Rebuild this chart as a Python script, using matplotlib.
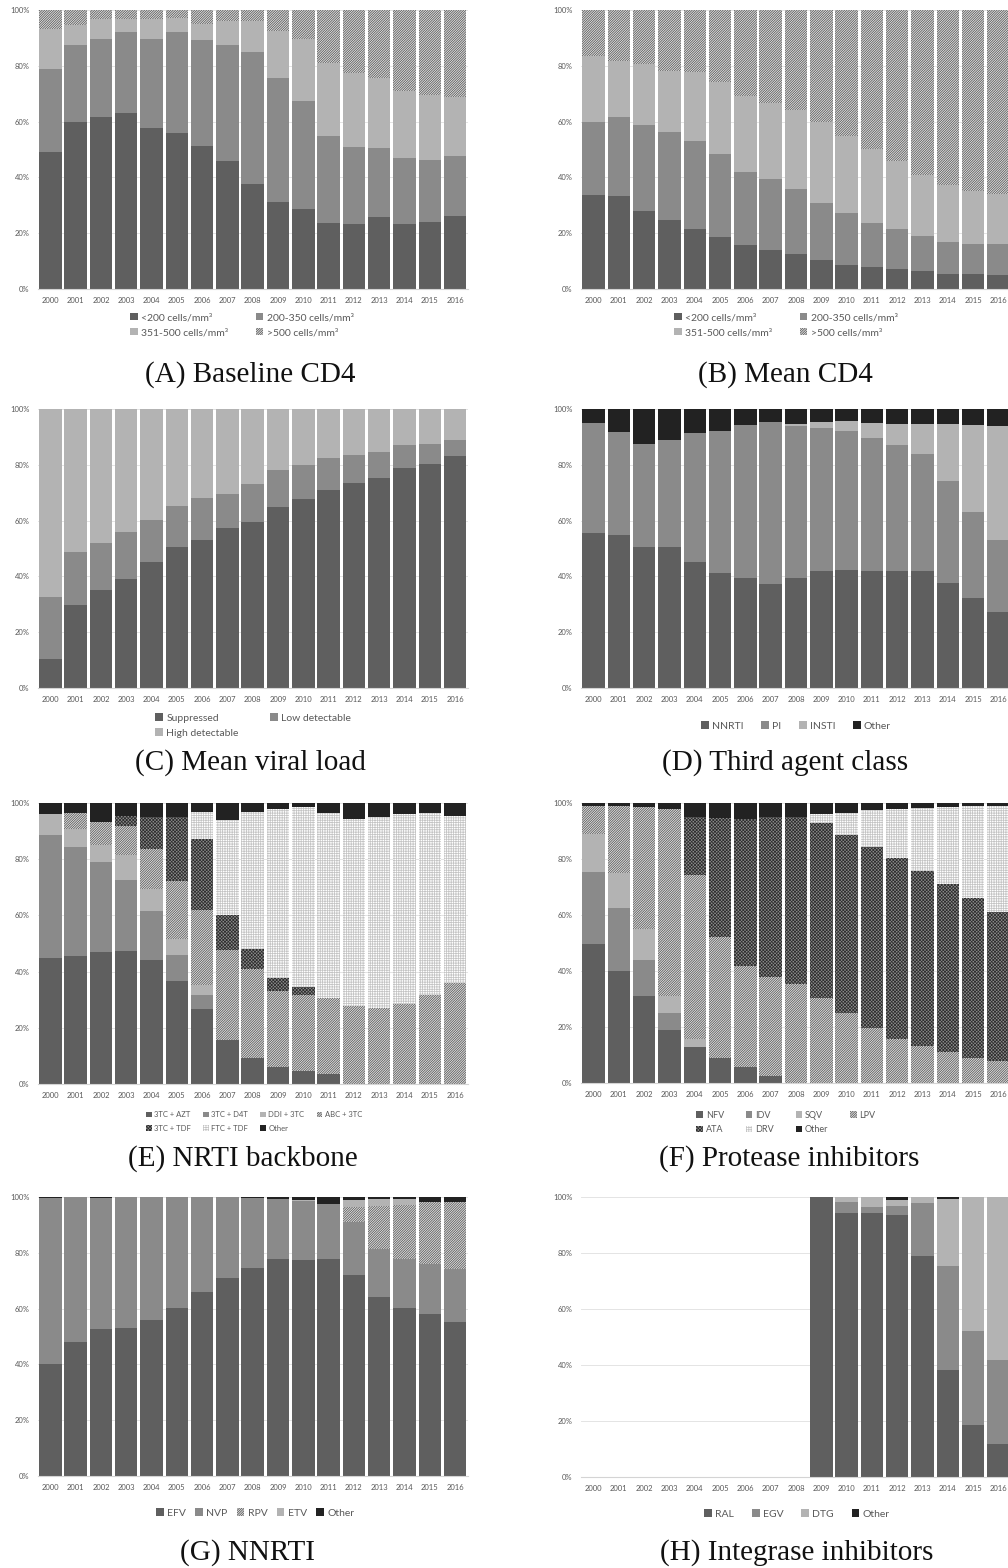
import numpy as np
import matplotlib
matplotlib.use('Agg')
import matplotlib.pyplot as plt

plt.rcParams['font.family'] = ['Lato', 'DejaVu Sans']
plt.rcParams['hatch.linewidth'] = 0.55

years = [str(y) for y in range(2000, 2017)]

# (A) Baseline CD4
a_lt200 = [49.0, 60.0, 61.7, 63.2, 57.6, 55.8, 51.4, 45.9, 37.7, 31.3, 28.8, 23.7, 23.2, 25.8, 23.2, 24.0, 26.3]
a_200_350 = [29.9, 27.6, 27.9, 29.0, 31.9, 36.4, 37.9, 41.5, 47.1, 44.4, 38.7, 31.2, 27.8, 24.7, 23.6, 22.2, 21.4]
a_351_500 = [14.3, 7.1, 7.2, 4.6, 7.3, 5.1, 5.8, 8.7, 11.3, 16.9, 22.1, 26.1, 26.4, 25.3, 24.1, 23.4, 21.2]
a_gt500 = [6.8, 5.3, 3.2, 3.2, 3.2, 2.7, 4.9, 3.9, 3.9, 7.4, 10.4, 19.0, 22.6, 24.2, 29.1, 30.4, 31.1]

# (B) Mean CD4
b_lt200 = [33.7, 33.4, 28.0, 24.9, 21.6, 18.6, 15.6, 14.0, 12.5, 10.4, 8.5, 8.0, 7.3, 6.4, 5.5, 5.4, 5.1]
b_200_350 = [26.3, 28.4, 30.9, 31.2, 31.6, 29.7, 26.2, 25.6, 23.3, 20.4, 18.6, 15.7, 14.1, 12.5, 11.4, 10.6, 10.9]
b_351_500 = [23.5, 19.9, 21.8, 22.2, 24.7, 26.0, 27.2, 27.2, 28.3, 28.9, 27.9, 26.4, 24.4, 21.9, 20.5, 19.2, 17.9]
b_gt500 = [16.5, 18.3, 19.3, 21.7, 22.1, 25.7, 31.0, 33.2, 35.9, 40.3, 45.0, 49.9, 54.2, 59.2, 62.6, 64.8, 66.1]

# (C) Mean viral load
c_supp = [10.5, 29.6, 35.2, 39.1, 45.3, 50.6, 52.9, 57.4, 59.5, 65.0, 67.7, 71.1, 73.4, 75.3, 79.0, 80.2, 83.2]
c_low = [22.2, 19.1, 16.9, 16.9, 14.8, 14.7, 15.1, 12.3, 13.5, 13.3, 12.1, 11.2, 10.1, 9.2, 8.1, 7.2, 5.7]
c_high = [67.3, 51.3, 47.9, 44.0, 39.9, 34.7, 32.0, 30.3, 27.0, 21.7, 20.2, 17.7, 16.5, 15.5, 12.9, 12.6, 11.1]

# (D) Third agent class
d_nnrti = [55.5, 54.8, 50.7, 50.5, 45.2, 41.2, 39.6, 37.1, 39.5, 41.9, 42.4, 42.1, 42.0, 41.9, 37.5, 32.3, 27.1]
d_pi = [39.5, 36.8, 36.8, 38.4, 46.1, 51.0, 54.6, 58.2, 54.3, 51.4, 49.8, 47.6, 45.1, 41.9, 36.7, 30.8, 26.0]
d_insti = [0, 0, 0, 0, 0, 0, 0, 0, 0.7, 2.2, 3.4, 5.4, 7.6, 10.7, 20.3, 31.1, 40.8]
d_other = [5.0, 8.4, 12.5, 11.1, 8.7, 7.8, 5.8, 4.7, 5.5, 4.5, 4.4, 4.9, 5.3, 5.5, 5.5, 5.8, 6.1]

# (E) NRTI backbone
e_azt = [44.7, 45.4, 46.9, 47.4, 44.1, 36.7, 26.8, 15.7, 9.3, 6.1, 4.6, 3.4, 0, 0, 0, 0, 0]
e_d4t = [44.0, 38.8, 32.0, 25.2, 17.3, 9.1, 4.7, 0, 0, 0, 0, 0, 0, 0, 0, 0, 0]
e_ddi = [7.3, 6.4, 6.1, 8.8, 8.1, 5.9, 3.8, 0, 0, 0, 0, 0, 0, 0, 0, 0, 0]
e_abc = [0, 5.7, 8.3, 10.5, 14.3, 20.5, 26.7, 32.0, 31.8, 27.0, 26.9, 27.1, 27.8, 27.1, 28.4, 31.7, 36.1]
e_3tc_tdf = [0, 0, 0, 3.6, 11.2, 22.8, 25.3, 12.4, 6.9, 4.5, 3.1, 0, 0, 0, 0, 0, 0]
e_ftc_tdf = [0, 0, 0, 0, 0, 0, 9.5, 33.7, 48.7, 60.3, 63.9, 65.8, 66.5, 67.9, 67.6, 64.6, 59.1]
e_other = [4.0, 3.7, 6.7, 4.5, 5.0, 5.0, 3.2, 6.2, 3.3, 2.1, 1.5, 3.7, 5.7, 5.0, 4.0, 3.7, 4.8]

# (F) Protease inhibitors
f_nfv = [49.5, 39.9, 31.0, 19.0, 12.7, 8.9, 5.6, 2.6, 0, 0, 0, 0, 0, 0, 0, 0, 0]
f_idv = [25.9, 22.6, 13.1, 6.1, 0, 0, 0, 0, 0, 0, 0, 0, 0, 0, 0, 0, 0]
f_sqv = [13.6, 12.4, 10.9, 6.1, 2.9, 0, 0, 0, 0, 0, 0, 0, 0, 0, 0, 0, 0]
f_lpv = [9.8, 23.9, 43.6, 66.5, 58.6, 43.2, 36.1, 35.4, 35.5, 30.3, 25.1, 19.6, 15.7, 13.1, 11.0, 9.1, 7.7]
f_ata = [0, 0, 0, 0, 20.9, 42.6, 52.6, 57.1, 59.6, 62.7, 63.6, 64.7, 64.6, 62.6, 59.9, 56.8, 53.3]
f_drv = [0, 0, 0, 0, 0, 0, 0, 0, 0, 3.0, 7.9, 13.3, 17.4, 22.5, 27.7, 32.9, 37.9]
f_other = [1.2, 1.2, 1.4, 2.3, 4.9, 5.3, 5.7, 4.9, 4.9, 4.0, 3.4, 2.4, 2.3, 1.8, 1.4, 1.2, 1.1]

# (G) NNRTI
g_efv = [40.1, 48.0, 52.7, 53.2, 56.0, 60.1, 65.9, 70.9, 74.5, 77.6, 77.3, 77.7, 72.0, 64.0, 60.3, 58.2, 55.3]
g_nvp = [59.5, 52.0, 46.9, 46.8, 44.0, 39.9, 34.1, 29.1, 25.3, 21.7, 21.2, 19.9, 19.1, 17.4, 17.5, 17.8, 18.9]
g_rpv = [0, 0, 0, 0, 0, 0, 0, 0, 0, 0, 0, 0, 5.3, 15.4, 19.2, 22.2, 24.0]
g_etv = [0, 0, 0, 0, 0, 0, 0, 0, 0, 0, 0.3, 0, 2.4, 2.5, 2.3, 0, 0]
g_other = [0.4, 0, 0.4, 0, 0, 0, 0, 0, 0.2, 0.7, 1.2, 2.4, 1.2, 0.7, 0.7, 1.8, 1.8]

# (H) Integrase inhibitors
h_ral = [0, 0, 0, 0, 0, 0, 0, 0, 0, 100, 94.4, 94.2, 93.7, 78.8, 38.2, 18.4, 11.7]
h_egv = [0, 0, 0, 0, 0, 0, 0, 0, 0, 0, 3.7, 2.2, 3.1, 19.2, 37.1, 33.6, 30.0]
h_dtg = [0, 0, 0, 0, 0, 0, 0, 0, 0, 0, 1.9, 3.6, 2.0, 2.0, 24.0, 48.0, 58.3]
h_other = [0, 0, 0, 0, 0, 0, 0, 0, 0, 0, 0, 0, 1.2, 0, 0.7, 0, 0]

styles = {
    'dark': dict(color='#5f5f5f', edgecolor='none'),
    'mid': dict(color='#8a8a8a', edgecolor='none'),
    'light': dict(color='#b3b3b3', edgecolor='none'),
    'black': dict(color='#222222', edgecolor='none'),
    'diag': dict(color='#e2e2e2', edgecolor='#555555', hatch='/' * 14),
    'dense': dict(color='#8c8c8c', edgecolor='#2e2e2e', hatch='x' * 10),
    'grid': dict(color='#ffffff', edgecolor='#c4c4c4', hatch='+' * 7),
}

W, H = 1008, 1568
fig = plt.figure(figsize=(W / 100, H / 100), dpi=100)
TXT = '#595959'


def fx(px):
    return px / W


def fy(py):
    return 1 - py / H


def panel(x0, top, bottom, series, caption, cap_xy, leg_xy, ncol, order=None,
          leg_size=7.5, colsp=1.5, rowsp=0.55):
    ax = fig.add_axes([fx(x0), fy(bottom), 430 / W, (bottom - top) / H])
    x = np.arange(len(years))
    base = np.zeros(len(years))
    handles, labels = [], []
    for label, vals, st in series:
        b = ax.bar(x, vals, bottom=base, width=0.89, linewidth=0, **styles[st])
        base += np.array(vals)
        handles.append(b)
        labels.append(label)
    ax.set_xlim(-0.5, 16.5)
    ax.set_ylim(0, 100)
    ax.set_xticks(x)
    ax.set_xticklabels(years)
    ax.set_yticks(range(0, 101, 20))
    ax.set_yticklabels([f'{v}%' for v in range(0, 101, 20)])
    ax.tick_params(length=0, labelsize=5.5, colors=TXT)
    ax.tick_params(axis='x', pad=6)
    ax.tick_params(axis='y', pad=6)
    ax.grid(axis='y', color='#e4e4e4', linewidth=0.7)
    ax.set_axisbelow(True)
    for s in ['top', 'right', 'left']:
        ax.spines[s].set_visible(False)
    ax.spines['bottom'].set_color('#d4d4d4')
    ax.spines['bottom'].set_linewidth(0.8)
    if order is not None:
        handles = [handles[i] for i in order]
        labels = [labels[i] for i in order]
    fig.legend(handles, labels, loc='center', bbox_to_anchor=(fx(leg_xy[0]), fy(leg_xy[1])),
               ncol=ncol, frameon=False, fontsize=leg_size, labelcolor=TXT,
               handlelength=0.75, handleheight=0.75, handletextpad=0.3,
               columnspacing=colsp, labelspacing=rowsp, borderpad=0)
    fig.text(fx(cap_xy[0]), fy(cap_xy[1]), caption, ha='center', va='center',
             family='Liberation Serif', size=21, color='#111111')
    return ax


LX, RX = 37.7, 581

panel(LX, 10, 289,
      [('<200 cells/mm³', a_lt200, 'dark'), ('200-350 cells/mm³', a_200_350, 'mid'),
       ('351-500 cells/mm³', a_351_500, 'light'), ('>500 cells/mm³', a_gt500, 'diag')],
      '(A) Baseline CD4', (250, 375), (242, 325), 2, order=[0, 2, 1, 3], colsp=2.6)

panel(RX, 10, 289,
      [('<200 cells/mm³', b_lt200, 'dark'), ('200-350 cells/mm³', b_200_350, 'mid'),
       ('351-500 cells/mm³', b_351_500, 'light'), ('>500 cells/mm³', b_gt500, 'diag')],
      '(B) Mean CD4', (785, 375), (786, 325), 2, order=[0, 2, 1, 3], colsp=2.6)

panel(LX, 409, 688,
      [('Suppressed', c_supp, 'dark'), ('Low detectable', c_low, 'mid'),
       ('High detectable', c_high, 'light')],
      '(C) Mean viral load', (250, 763), (253, 725.5), 2, order=[0, 2, 1], colsp=3.0)

panel(RX, 409, 688,
      [('NNRTI', d_nnrti, 'dark'), ('PI', d_pi, 'mid'),
       ('INSTI', d_insti, 'light'), ('Other', d_other, 'black')],
      '(D) Third agent class', (785, 763), (796, 726), 4, colsp=1.7)

panel(LX, 803, 1084,
      [('3TC + AZT', e_azt, 'dark'), ('3TC + D4T', e_d4t, 'mid'),
       ('DDI + 3TC', e_ddi, 'light'), ('ABC + 3TC', e_abc, 'diag'),
       ('3TC + TDF', e_3tc_tdf, 'dense'), ('FTC + TDF', e_ftc_tdf, 'grid'),
       ('Other', e_other, 'black')],
      '(E) NRTI backbone', (243, 1159), (254, 1121.5), 4, order=[0, 4, 1, 5, 2, 6, 3],
      leg_size=5.5, colsp=1.6, rowsp=0.9)

panel(RX, 803, 1083,
      [('NFV', f_nfv, 'dark'), ('IDV', f_idv, 'mid'), ('SQV', f_sqv, 'light'),
       ('LPV', f_lpv, 'diag'), ('ATA', f_ata, 'dense'), ('DRV', f_drv, 'grid'),
       ('Other', f_other, 'black')],
      '(F) Protease inhibitors', (789, 1159), (786, 1122.5), 4, order=[0, 4, 1, 5, 2, 6, 3],
      leg_size=6.5, colsp=2.4, rowsp=0.6)

panel(LX, 1197, 1476,
      [('EFV', g_efv, 'dark'), ('NVP', g_nvp, 'mid'), ('RPV', g_rpv, 'diag'),
       ('ETV', g_etv, 'light'), ('Other', g_other, 'black')],
      '(G) NNRTI', (248, 1553), (255, 1513), 5, colsp=0.9)

panel(RX, 1197, 1477,
      [('RAL', h_ral, 'dark'), ('EGV', h_egv, 'mid'), ('DTG', h_dtg, 'light'),
       ('Other', h_other, 'black')],
      '(H) Integrase inhibitors', (797, 1553), (797, 1514), 4, colsp=1.7)

fig.savefig('out.png', dpi=100, facecolor='white')
